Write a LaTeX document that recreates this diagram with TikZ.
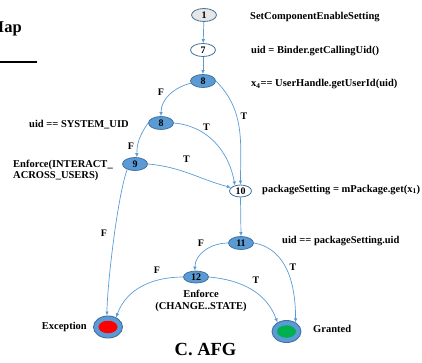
\documentclass[tikz,border=0pt]{standalone}
\usepackage{fontspec}
\setmainfont{Liberation Serif}
\usetikzlibrary{shapes.geometric,arrows.meta}
\definecolor{nblue}{HTML}{5B9BD5}
\definecolor{nedge}{HTML}{41719C}
\definecolor{ngray}{HTML}{E7E6E6}
\definecolor{egreen}{HTML}{00B050}
\definecolor{ered}{HTML}{FF0000}
\begin{document}
\begin{tikzpicture}[x=1pt,y=1pt,
  nd/.style={ellipse,draw=nedge,line width=0.8pt,minimum width=25pt,minimum height=13pt,inner sep=0pt,font=\bfseries\fontsize{10}{11}\selectfont},
  filled/.style={nd,fill=nblue},
  plain/.style={nd,fill=white},
  grey/.style={nd,fill=ngray},
  term/.style={ellipse,draw=nedge,line width=0.9pt,fill=nblue,minimum width=29pt,minimum height=22pt,inner sep=0pt},
  core/.style={ellipse,minimum width=19pt,minimum height=12.5pt,inner sep=0pt},
  lbl/.style={font=\bfseries\fontsize{10.5}{11}\selectfont,inner sep=0pt},
  el/.style={font=\bfseries\fontsize{10}{11}\selectfont,inner sep=0pt},
  ed/.style={draw=nblue,line width=0.7pt,-{Latex[length=4pt,width=3.6pt]}},
]
\useasboundingbox (0,0) rectangle (422,-362);
% header fragment
\node[anchor=base west,inner sep=0pt,font=\bfseries\fontsize{16.5}{18}\selectfont] (maptxt) at (-11.5,-32) {Map};
\draw[line width=2.4pt] (0,-61.7) coordinate (ls) -- (37,-61.7) coordinate (le);
% nodes
\node[grey] (n1) at (204,-15) {1};
\node[plain] (n7) at (203,-50) {7};
\node[filled] (n8a) at (203,-81) {8};
\node[filled] (n8b) at (161,-123) {8};
\node[filled] (n9) at (135,-164) {9};
\node[plain,minimum width=22pt,minimum height=12pt] (n10) at (240.5,-191) {10};
\node[filled] (n11) at (241,-243) {11};
\node[filled,minimum height=12pt] (n12) at (196,-277) {12};
\node[term] (exc) at (108,-327) {};
\node[core,fill=ered] (excin) at (108,-327) {};
\node[term] (gr) at (286.5,-331.5) {};
\node[core,fill=egreen] (grin) at (286.5,-331.5) {};
% texts
\node[lbl,anchor=base west] (t1) at (250,-19.5) {SetComponentEnableSetting};
\node[lbl,anchor=base west] (t7) at (251,-53.5) {uid = Binder.getCallingUid()};
\node[lbl,anchor=base west] (t8a) at (251,-86.5) {x\textsubscript{4}== UserHandle.getUserId(uid)};
\node[lbl,anchor=base west] (t8b) at (29,-127) {uid == SYSTEM\_UID};
\node[lbl,anchor=base west] (t9a) at (13,-167) {Enforce(INTERACT\_};
\node[lbl,anchor=base west] (t9b) at (13,-178) {ACROSS\_USERS)};
\node[lbl,anchor=base west] (t10) at (262,-192) {packageSetting = mPackage.get(x\textsubscript{1})};
\node[lbl,anchor=base west] (t11) at (282,-243) {uid == packageSetting.uid};
\node[lbl,anchor=base] (t12a) at (201,-297.5) {Enforce};
\node[lbl,anchor=base] (t12b) at (201,-309.5) {(CHANGE..STATE)};
\node[lbl,anchor=base east] (texc) at (87,-329.5) {Exception};
\node[lbl,anchor=base west] (tgr) at (313,-332.5) {Granted};
\node[anchor=base,inner sep=0pt,font=\bfseries\fontsize{18.5}{20}\selectfont] (cap) at (205.5,-355) {C. AFG};
% edges
\draw[ed] (n1) -- (n7);
\draw[ed] (n7) -- (n8a);
\draw[ed] (n8a.190) to[out=195,in=90] (n8b.north);
\draw[ed] (n8a.east) to[out=-45,in=90] (n10.north);
\draw[ed] (n8b.east) to[out=-5,in=100] (n10.135);
\draw[ed] (n8b.west) to[out=235,in=90] (n9.75);
\draw[ed] (n9.east) to[out=-5,in=165] (n10.160);
\draw[ed] (n9.215) to[out=250,in=90,looseness=0.5] (exc.95);
\draw[ed] (n10.south) -- (n11.north);
\draw[ed] (n11.west) to[out=180,in=90] (n12.100);
\draw[ed] (n11.east) to[out=-10,in=90] (gr.45);
\draw[ed] (n12.west) to[out=180,in=70] (exc.50);
\draw[ed] (n12.east) to[out=-5,in=110] (gr.135);
% edge labels
\node[el] (lf1) at (161,-92) {F};
\node[el] (lt1) at (244,-116.5) {T};
\node[el] (lt2) at (206.5,-127) {T};
\node[el] (lf2) at (131,-146) {F};
\node[el] (lt3) at (186.5,-159) {T};
\node[el] (lf3) at (104,-233) {F};
\node[el] (lf4) at (201,-243.5) {F};
\node[el] (lt4) at (293,-267) {T};
\node[el] (lf5) at (157,-270) {F};
\node[el] (lt5) at (256,-280) {T};
\end{tikzpicture}
\end{document}
